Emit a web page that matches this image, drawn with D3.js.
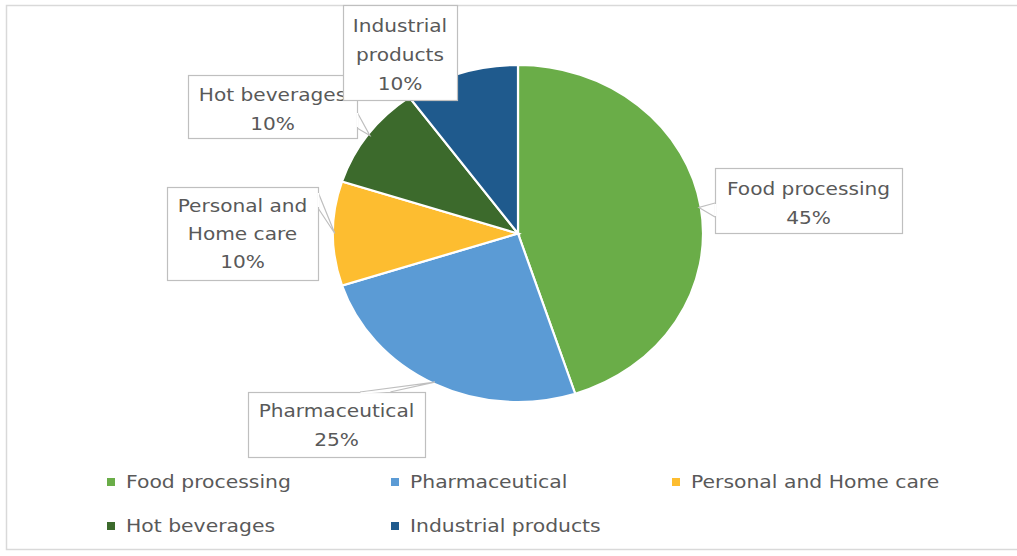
<!DOCTYPE html>
<html><head><meta charset="utf-8">
<script src="https://cdn.jsdelivr.net/npm/d3@7/dist/d3.min.js"></script>
<style>html,body{margin:0;padding:0;background:#fff;}svg{display:block;}</style>
</head><body><svg id="c" width="1017" height="556"></svg>
<script>
const categories = ["Food processing","Pharmaceutical","Personal and Home care","Hot beverages","Industrial products"];
const values = [45,25,10,10,10];
const labelLines = [["Food processing","45%"],["Pharmaceutical","25%"],["Personal and","Home care","10%"],["Hot beverages","10%"],["Industrial","products","10%"]];
const colors = ["#6aad48","#5b9bd5","#fdbd30","#3c6a2c","#1f5a8d"];

const W=1017,H=556;
const svg=d3.select("#c");
const font="'DejaVu Sans', sans-serif";
const textCol="#595959";
const tsx=1.1;

// chart frame
svg.append("rect").attr("x",6.5).attr("y",5.5).attr("width",1030).attr("height",544)
  .attr("fill","#fff").attr("stroke","#d9d9d9").attr("stroke-width",1.5);

const cx=518, cy=233.5, r=168.5, sx=1.098;
const pie=d3.pie().sort(null).value(d=>d.v);
const arcs=pie(categories.map((c,i)=>({c,v:values[i],i})));
const arc=d3.arc().innerRadius(0).outerRadius(r);

const g=svg.append("g").attr("transform",`translate(${cx},${cy}) scale(${sx},1)`);
g.selectAll("path").data(arcs).enter().append("path")
  .attr("d",arc).attr("fill",d=>colors[d.index])
  .attr("stroke","#fff").attr("stroke-width",2.2).attr("vector-effect","non-scaling-stroke");

function edgePt(d,k){const a=(d.startAngle+d.endAngle)/2;return [cx+Math.sin(a)*r*k*sx, cy-Math.cos(a)*r*k];}

const boxes=[
  {b:[715,168,902,233], y0:195, dy:29, from:[[715,203],[715,217]]},
  {b:[248,392,425,457], y0:417, dy:29, from:[[360,392],[390,392]]},
  {b:[167,187,318,280], y0:212, dy:28, from:[[318,192],[318,208]]},
  {b:[188,75,357,138], y0:101, dy:29, from:[[357,112],[357,128]]},
  {b:[343,5,457,100], y0:32, dy:29, from:null}
];
const lg=svg.append("g");
[2,1,0,3,4].forEach(i=>{
  const bx=boxes[i], d=arcs[i];
  const [x0,y0,x1,y1]=bx.b;
  const gg=lg.append("g");
  if(bx.from){
    const p=edgePt(d,0.99);
    gg.append("path").attr("d",`M${bx.from[0][0]},${bx.from[0][1]}L${p[0]},${p[1]}L${bx.from[1][0]},${bx.from[1][1]}`)
      .attr("fill","#fff").attr("stroke","#bfbfbf").attr("stroke-width",1.2);
  }
  gg.append("rect").attr("x",x0+0.5).attr("y",y0+0.5).attr("width",x1-x0).attr("height",y1-y0)
    .attr("fill","#fff").attr("stroke","#bfbfbf").attr("stroke-width",1.2);
  if(bx.from){
    gg.append("line").attr("x1",bx.from[0][0]+0.5).attr("y1",bx.from[0][1]+1).attr("x2",bx.from[1][0]+0.5).attr("y2",bx.from[1][1]-1)
      .attr("stroke","#fff").attr("stroke-width",1.5);
  }
  const cxm=(x0+x1)/2;
  labelLines[i].forEach((t,j)=>{
    gg.append("text").attr("transform",`translate(${cxm},${bx.y0+j*bx.dy}) scale(${tsx},1)`).attr("text-anchor","middle")
      .attr("font-family",font).attr("font-size",18.3).attr("fill",textCol).text(t);
  });
});

// legend
const legX=[111,395,676], legY=[482,526];
categories.forEach((c,i)=>{
  const col=i%3,row=Math.floor(i/3);
  const x=legX[col], y=legY[row];
  svg.append("rect").attr("x",x-4).attr("y",y-4).attr("width",8).attr("height",8).attr("fill",colors[i]);
  svg.append("text").attr("transform",`translate(${x+15},${y+6}) scale(${tsx},1)`).attr("font-family",font).attr("font-size",18.5)
    .attr("fill",textCol).text(c);
});
</script></body></html>
